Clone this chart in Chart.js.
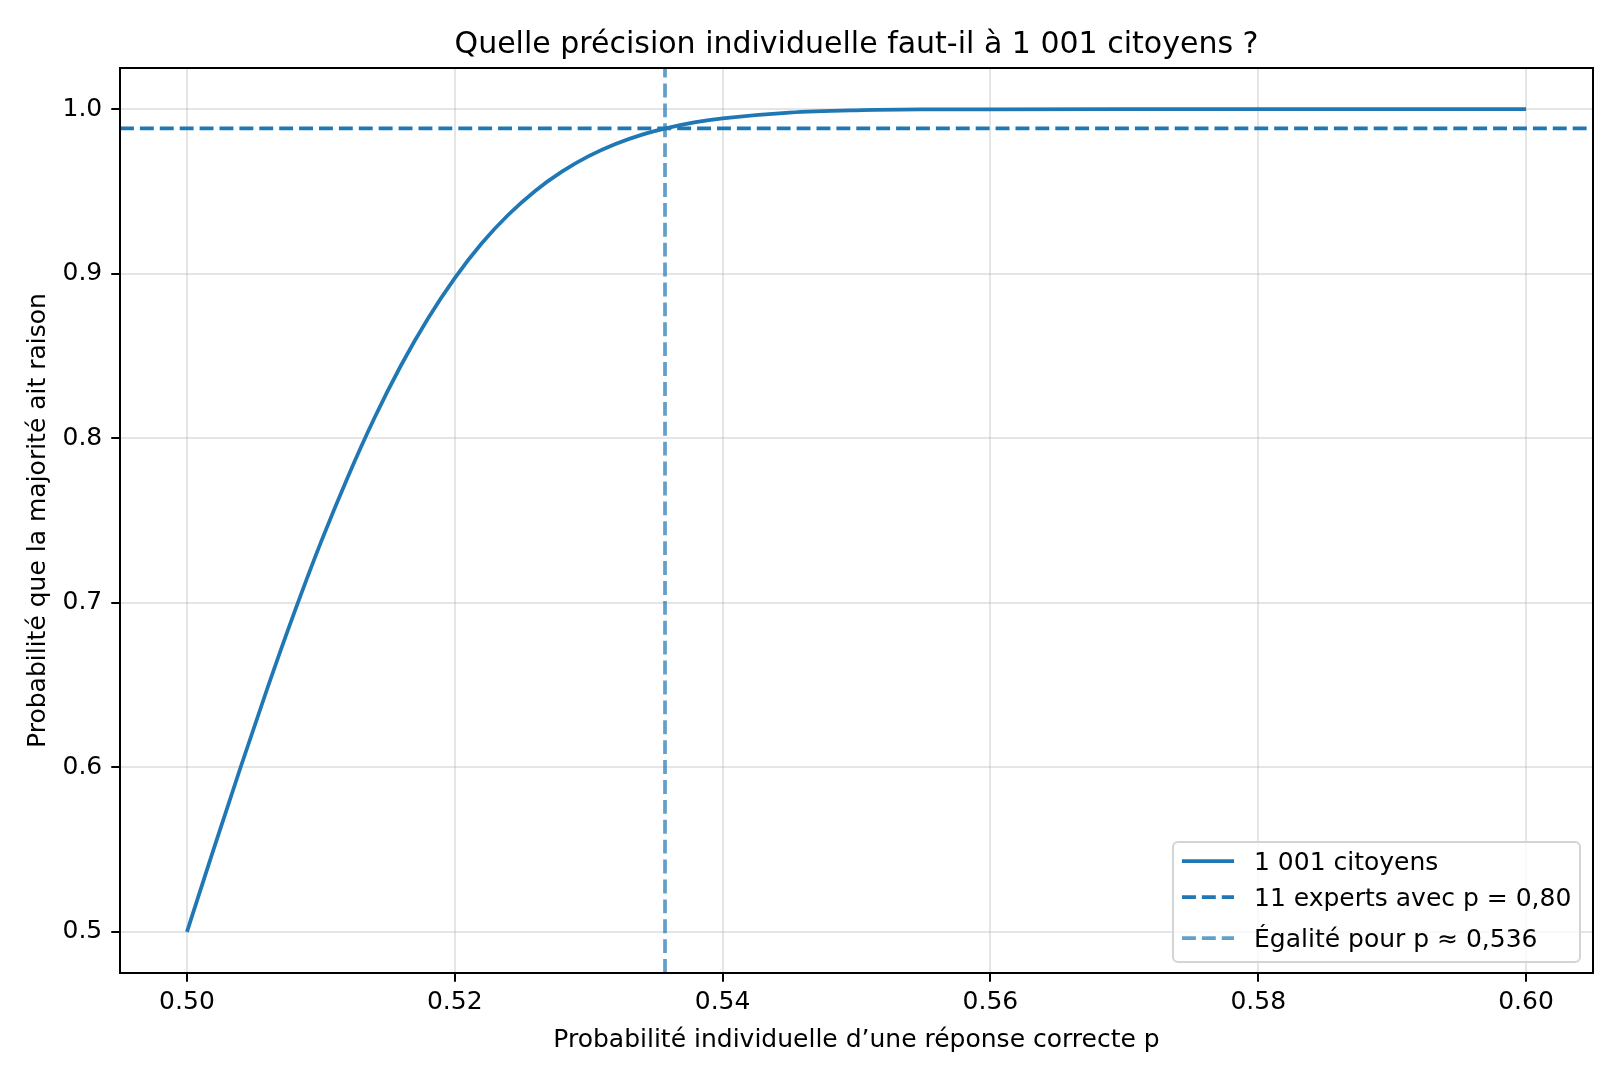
<!DOCTYPE html>
<html><head><meta charset="utf-8">
<script src="https://cdn.jsdelivr.net/npm/chart.js@4.4.1/dist/chart.umd.min.js"></script>
<style>html,body{margin:0;padding:0;background:#fff}#wrap{width:1620px;height:1080px}</style>
</head><body><div id="wrap"><canvas id="c" width="1620" height="1080"></canvas></div>
<script>
// ---- data ----
const pValues = [0.500,0.502,0.504,0.506,0.508,0.510,0.512,0.514,0.516,0.518,0.520,0.522,0.524,0.526,0.528,0.530,0.532,0.534,0.536,0.538,0.540,0.545,0.550,0.555,0.560,0.570,0.580,0.590,0.600];
const majorityProb = [0.5000,0.5504,0.5999,0.6479,0.6937,0.7367,0.7762,0.8123,0.8445,0.8728,0.8973,0.9183,0.9358,0.9503,0.9620,0.9714,0.9788,0.9845,0.9888,0.9921,0.9944,0.9979,0.9993,0.9998,0.9999,1.0000,1.0000,1.0000,1.0000];
const expertsLevel = 0.9883;
const equalityP = 0.5357;
const xRange = [0.495, 0.605];
const yRange = [0.475, 1.025];
const xTicks = [0.50, 0.52, 0.54, 0.56, 0.58, 0.60];
const yTicks = [0.5, 0.6, 0.7, 0.8, 0.9, 1.0];
const seriesLabels = ['1 001 citoyens', '11 experts avec p = 0,80', 'Égalité pour p ≈ 0,536'];
const titleText = 'Quelle précision individuelle faut-il à 1 001 citoyens ?';
const xLabel = 'Probabilité individuelle d’une réponse correcte p';
const yLabel = 'Probabilité que la majorité ait raison';

const FONT = 'DejaVu Sans';
Chart.defaults.font.family = FONT;
Chart.defaults.color = '#000';

// centre the title over the plot area, like the reference
const titleOverPlot = {
  id: 'titleOverPlot',
  afterLayout(chart) {
    const t = chart.titleBlock, a = chart.chartArea;
    if (t && a) { t.left = a.left; t.right = a.right; t.width = a.right - a.left; }
  }
};

const frame = {
  id: 'frame',
  afterDatasetsDraw(chart) {
    const a = chart.chartArea, ctx = chart.ctx;
    ctx.save();
    ctx.strokeStyle = '#000'; ctx.lineWidth = 2;
    ctx.strokeRect(a.left, a.top, a.right - a.left, a.bottom - a.top);
    ctx.restore();
  }
};

const boxLegend = {
  id: 'boxLegend',
  afterDraw(chart) {
    const ctx = chart.ctx;
    const bx = 1173, by = 842, bw = 407, bh = 120, r = 5;
    ctx.save();
    ctx.beginPath();
    ctx.moveTo(bx + r, by);
    ctx.arcTo(bx + bw, by, bx + bw, by + bh, r);
    ctx.arcTo(bx + bw, by + bh, bx, by + bh, r);
    ctx.arcTo(bx, by + bh, bx, by, r);
    ctx.arcTo(bx, by, bx + bw, by, r);
    ctx.closePath();
    ctx.fillStyle = 'rgba(255,255,255,0.8)';
    ctx.fill();
    ctx.strokeStyle = '#d4d4d4'; ctx.lineWidth = 2;
    ctx.stroke();
    const lineY = [861, 897, 938];
    const baseY = [870, 906, 946.5];
    chart.data.datasets.forEach((ds, i) => {
      ctx.beginPath();
      ctx.setLineDash(ds.borderDash || []);
      ctx.strokeStyle = ds.borderColor;
      ctx.lineWidth = ds.borderWidth;
      ctx.moveTo(1182, lineY[i]);
      ctx.lineTo(1234, lineY[i]);
      ctx.stroke();
      ctx.setLineDash([]);
      ctx.fillStyle = '#000';
      ctx.font = '25px "' + FONT + '"';
      ctx.textBaseline = 'alphabetic';
      ctx.textAlign = 'left';
      ctx.fillText(ds.label, 1254, baseY[i]);
    });
    ctx.restore();
  }
};

const gridOpts = {
  color: 'rgba(176,176,176,0.33)', lineWidth: 2,
  drawTicks: true, tickLength: 8.75, tickColor: '#000', tickWidth: 2
};

new Chart(document.getElementById('c'), {
  type: 'scatter',
  data: {
    datasets: [
      {
        label: seriesLabels[0],
        data: pValues.map((x, i) => ({x: x, y: majorityProb[i]})),
        showLine: true, borderColor: '#1f77b4', borderWidth: 3.75,
        pointRadius: 0, cubicInterpolationMode: 'monotone', order: 3
      },
      {
        label: seriesLabels[1],
        data: [{x: xRange[0], y: expertsLevel}, {x: xRange[1], y: expertsLevel}],
        showLine: true, borderColor: '#1f77b4', borderWidth: 3.75,
        borderDash: [13.9, 6], pointRadius: 0, order: 2
      },
      {
        label: seriesLabels[2],
        data: [{x: equalityP, y: yRange[0]}, {x: equalityP, y: yRange[1]}],
        showLine: true, borderColor: 'rgba(31,119,180,0.7)', borderWidth: 3.75,
        borderDash: [13.9, 6], pointRadius: 0, order: 1
      }
    ]
  },
  options: {
    responsive: false, animation: false, devicePixelRatio: 1,
    layout: {padding: {left: 0, right: 27, top: 0, bottom: 0}},
    plugins: {
      legend: {display: false}, tooltip: {enabled: false},
      title: {
        display: true, text: titleText, color: '#000',
        font: {size: 30, weight: 'normal', family: FONT},
        padding: {top: 27.5, bottom: 4.5}
      }
    },
    scales: {
      x: {
        type: 'linear', min: xRange[0], max: xRange[1],
        afterBuildTicks: s => { s.ticks = xTicks.map(v => ({value: v})); },
        afterFit: s => { s.height = 107; },
        ticks: {callback: v => v.toFixed(2), font: {size: 25}, color: '#000', padding: 6, maxRotation: 0, autoSkip: false},
        grid: gridOpts,
        border: {display: true, color: '#000', width: 2},
        title: {display: true, text: xLabel, color: '#000', font: {size: 25}, padding: {top: 0, bottom: 25}}
      },
      y: {
        type: 'linear', min: yRange[0], max: yRange[1],
        afterBuildTicks: s => { s.ticks = yTicks.map(v => ({value: v})); },
        afterFit: s => { s.width = 120; },
        ticks: {callback: v => v.toFixed(1), font: {size: 25}, color: '#000', padding: 9, autoSkip: false},
        grid: gridOpts,
        border: {display: true, color: '#000', width: 2},
        title: {display: true, text: yLabel, color: '#000', font: {size: 25}, padding: {top: 23, bottom: 0}}
      }
    }
  },
  plugins: [titleOverPlot, frame, boxLegend]
});
</script>
</body></html>
